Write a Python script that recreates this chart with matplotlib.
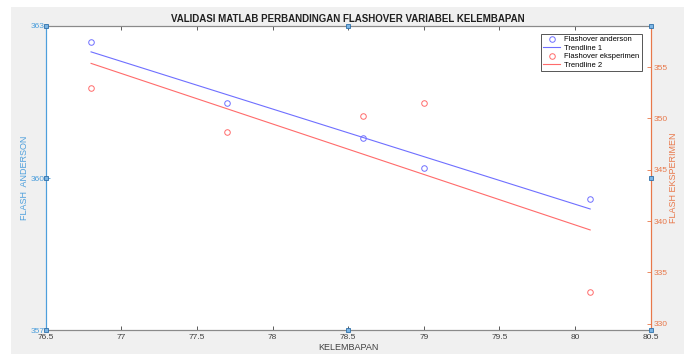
import numpy as np
import matplotlib
matplotlib.use("Agg")
import matplotlib.pyplot as plt
from matplotlib.patches import Rectangle
from matplotlib.ticker import FormatStrFormatter

plt.rcParams['font.family'] = ['Liberation Sans', 'DejaVu Sans']

# Data
kelembapan = [76.8, 77.7, 78.6, 79.0, 80.1]
flash_anderson = [362.68, 361.49, 360.80, 360.19, 359.59]
flash_eksperimen = [353.0, 348.67, 350.23, 351.47, 333.1]

x_ticks = [76.5, 77, 77.5, 78, 78.5, 79, 79.5, 80, 80.5]
left_ticks = [357, 360, 363]
right_ticks = [330, 335, 340, 345, 350, 355]

# Trendlines (linear fit, like MATLAB polyfit)
x_tr = np.array([min(kelembapan), max(kelembapan)])
p1 = np.polyfit(kelembapan, flash_anderson, 1)
p2 = np.polyfit(kelembapan, flash_eksperimen, 1)

c_left = '#4d9fdc'
c_right = '#e8784a'
c_blue = '#6f6fff'
c_red = '#ff6b6b'
c_grey = '#8a8a8a'

fig = plt.figure(figsize=(6.84, 3.54), dpi=100, facecolor='white')
fig.patches.append(Rectangle((11 / 684, 0), 1, 1 - 7 / 354, transform=fig.transFigure,
                             facecolor='#f0f0f0', edgecolor='none', zorder=-10))

ax = fig.add_axes([0.0668, 0.067, 0.8845, 0.8596])
ax2 = ax.twinx()

h1, = ax.plot(kelembapan, flash_anderson, 'o', mfc='none', mec=c_blue, ms=4, mew=0.7,
              label='Flashover anderson')
h2, = ax.plot(x_tr, np.polyval(p1, x_tr), '-', color=c_blue, lw=0.8, label='Trendline 1')
h3, = ax2.plot(kelembapan, flash_eksperimen, 'o', mfc='none', mec=c_red, ms=4, mew=0.7,
               label='Flashover eksperimen')
h4, = ax2.plot(x_tr, np.polyval(p2, x_tr), '-', color=c_red, lw=0.8, label='Trendline 2')

ax.set_xlim(76.5, 80.5)
ax.set_ylim(357, 363)
ax2.set_ylim(329.36, 359.0)
ax.set_xticks(x_ticks)
ax.xaxis.set_major_formatter(FormatStrFormatter('%g'))
ax.set_yticks(left_ticks)
ax2.set_yticks(right_ticks)

ax.tick_params(axis='x', direction='in', length=3, width=0.6, colors='#404040',
               labelsize=6, top=True, pad=3)
ax.tick_params(axis='y', direction='in', length=3, width=0.6, colors=c_left,
               labelsize=6, pad=1)
ax2.tick_params(axis='y', direction='in', length=3, width=0.6, colors=c_right,
                labelsize=6, pad=2)

for a in (ax, ax2):
    a.spines['top'].set_color(c_grey)
    a.spines['bottom'].set_color(c_grey)
    for s in a.spines.values():
        s.set_linewidth(0.8)
    a.spines['left'].set_color(c_left)
    a.spines['right'].set_color(c_right)

ax.set_title('VALIDASI MATLAB PERBANDINGAN FLASHOVER VARIABEL KELEMBAPAN',
             fontsize=7, fontweight='bold', color='#202020', pad=3)
ax.set_xlabel('KELEMBAPAN', fontsize=6.5, color='#404040', labelpad=1)
ax.set_ylabel('FLASH  ANDERSON', fontsize=6.5, color=c_left, labelpad=1)
ax2.set_ylabel('FLASH EKSPERIMEN', fontsize=6.5, color=c_right, labelpad=1)

leg = ax2.legend(handles=[h1, h2, h3, h4], loc='upper right', fontsize=5.5,
                 bbox_to_anchor=(0.985, 0.975), fancybox=False, framealpha=1,
                 edgecolor='#555555', borderpad=0.3, labelspacing=0.15,
                 handlelength=2.2, handletextpad=0.5, borderaxespad=0)
leg.get_frame().set_linewidth(0.7)

# selection handles shown around the axes
for fx in (0, 0.5, 1):
    for fy in (0, 0.5, 1):
        if fx == 0.5 and fy == 0.5:
            continue
        ax2.plot(fx, fy, 's', transform=ax2.transAxes, clip_on=False, ms=3,
                 mfc='#7ab4e4', mec='#2f6fa8', mew=0.6, zorder=10)

fig.savefig('out.png', dpi=100, facecolor=fig.get_facecolor())
